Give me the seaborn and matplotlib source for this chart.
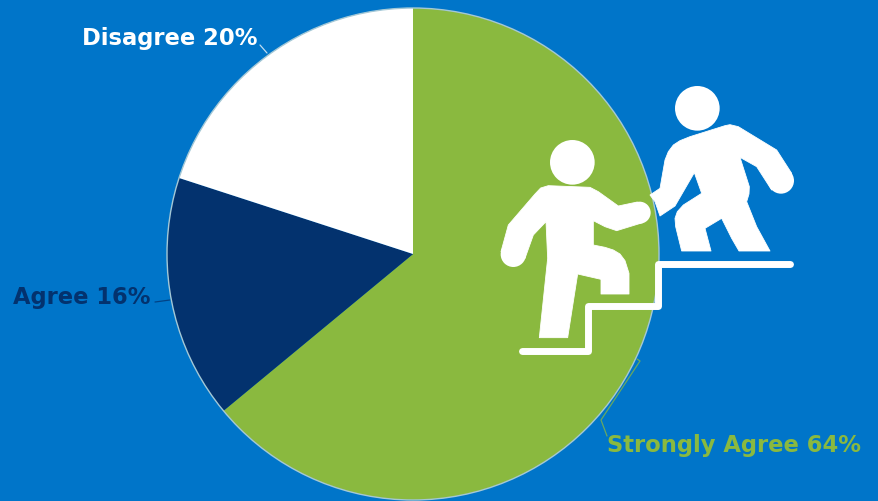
import matplotlib
matplotlib.use("Agg")
import matplotlib.pyplot as plt
import seaborn as sns
from matplotlib.patches import Circle, Polygon, PathPatch
from matplotlib.path import Path

# Survey responses, clockwise from twelve o'clock
categories = ["Strongly Agree", "Agree", "Disagree"]
shares = [64, 16, 20]
slice_colors = ["#8AB93F", "#03326E", "#FFFFFF"]
label_colors = ["#8AB93F", "#03326E", "#FFFFFF"]

BACKGROUND = "#0075C9"
W, H = 879, 501
CENTER = (413, H - 254)
RADIUS = 246

sns.set_theme(style="white")
plt.rcParams["font.family"] = ["DejaVu Sans"]

fig = plt.figure(figsize=(W / 100, H / 100), dpi=100, facecolor=BACKGROUND)
ax = fig.add_axes([0, 0, 1, 1])
ax.set_facecolor(BACKGROUND)

ax.pie(
    shares,
    colors=slice_colors,
    startangle=90,
    counterclock=False,
    center=CENTER,
    radius=RADIUS,
    frame=True,
    wedgeprops={"edgecolor": "none", "linewidth": 0},
)
# Pale rim around the whole pie
ax.add_patch(Circle(CENTER, RADIUS, facecolor="none", edgecolor="#A4C8D6", linewidth=1.0, zorder=3))
ax.set_xlim(0, W)
ax.set_ylim(0, H)
ax.set_aspect("equal")
ax.set_axis_off()


def px(x, y):
    return (x, H - y)


# Category labels with their thin leader lines
label_positions = {"Strongly Agree": (607, 443), "Agree": (13, 295), "Disagree": (82, 36)}
leaders = {
    "Strongly Agree": [(637, 359), (640, 361), (601, 420), (607, 436)],
    "Agree": [(155, 302), (170, 300)],
    "Disagree": [(260, 45), (267, 53)],
}
for name, share, color in zip(categories, shares, label_colors):
    x, y = label_positions[name]
    ax.text(*px(x, y), f"{name} {share}%", color=color, fontsize=16.3,
            fontweight="bold", ha="left", va="center_baseline")
    ax.plot(*zip(*[px(*p) for p in leaders[name]]), color=color, lw=0.9, alpha=0.75)


# Pictogram geometry is laid out on a local grid, three units to a pixel
def icon(x, y):
    return px(490 + x / 3, 70 + y / 3)


def blob(points):
    ax.add_patch(Polygon([icon(*p) for p in points], closed=True, facecolor="white",
                         edgecolor="white", linewidth=0.6, joinstyle="round", zorder=5))


def dot(x, y, r):
    ax.add_patch(Circle(icon(x, y), r / 3, facecolor="white", edgecolor="none", zorder=5))


# Climbing figure
dot(247, 277, 67)
blob([(175, 347), (300, 352), (325, 365), (385, 408), (442, 396),
      (458, 458), (380, 482), (345, 470), (310, 452), (310, 525), (345, 532), (370, 540),
      (390, 552), (405, 572), (417, 610), (417, 672), (333, 672), (333, 628), (263, 612),
      (233, 803), (148, 803), (173, 565), (168, 455), (130, 495), (105, 565),
      (33, 545), (55, 465), (135, 372), (152, 354)])
dot(449, 428, 33)
dot(70, 553, 38)

# Figure reaching down from the upper step
dot(622, 115, 67)
blob([(705, 167), (720, 164), (745, 170), (860, 240), (905, 310), (845, 360),
      (800, 290), (750, 262), (778, 350), (777, 372), (770, 395), (800, 470), (840, 543),
      (747, 543), (725, 505), (695, 445), (645, 475), (663, 543), (575, 543), (557, 470),
      (555, 445), (562, 425), (580, 405), (635, 370), (613, 308), (555, 408), (510, 438),
      (495, 395), (480, 375), (510, 355), (525, 270), (535, 245), (550, 225), (570, 212),
      (600, 200)])
dot(873, 332, 39)

# Staircase
stairs = [(95, 844), (295, 844), (295, 708), (505, 708), (505, 582), (900, 582)]
codes = [Path.MOVETO] + [Path.LINETO] * (len(stairs) - 1)
ax.add_patch(PathPatch(Path([icon(*p) for p in stairs], codes), facecolor="none",
                       edgecolor="white", linewidth=5.0, capstyle="round",
                       joinstyle="round", zorder=5))

fig.savefig("out.png", dpi=100, facecolor=BACKGROUND)
